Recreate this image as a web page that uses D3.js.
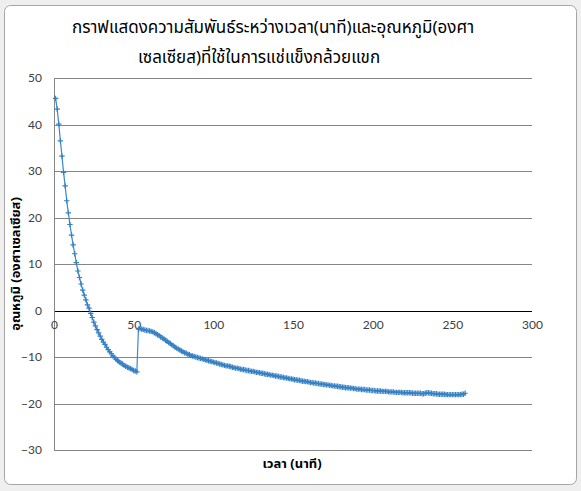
<!DOCTYPE html>
<html><head><meta charset="utf-8">
<script src="https://cdn.jsdelivr.net/npm/d3@7/dist/d3.min.js"></script>
<style>
html,body{margin:0;padding:0;background:#efefef;}
svg{display:block;}
</style></head>
<body>
<svg id="chart" width="581" height="491"></svg>
<script>
const titleLines = ["กราฟแสดงความสัมพันธ์ระหว่างเวลา(นาที)และอุณหภูมิ(องศา", "เซลเซียส)ที่ใช้ในการแช่แข็งกล้วยแขก"];
const xTitle = "เวลา (นาที)";
const yTitle = "อุณหภูมิ (องศาเซลเซียส)";
const xTicks = [0, 50, 100, 150, 200, 250, 300];
const yTicks = [-30, -20, -10, 0, 10, 20, 30, 40, 50];
// temperature readings, one per minute starting at minute 1
const coolingPhase = [
  45.6, 43.3, 40.1, 36.5, 33.2, 29.7, 26.8, 23.6, 21.0, 18.5,
  16.2, 14.1, 12.2, 10.3, 8.5, 7.1, 5.7, 4.4, 3.3, 2.3,
  1.2, 0.5, -0.6, -1.5, -2.5, -3.3, -4.1, -4.8, -5.5, -6.2,
  -6.8, -7.3, -7.9, -8.4, -8.9, -9.3, -9.8, -10.1, -10.5, -10.8,
  -11.1, -11.3, -11.5, -11.8, -12.0, -12.2, -12.3, -12.5, -12.7, -12.9,
  -13.0, -13.2
];
const freezingPhase = [
  -4.0, -3.9, -4.0, -4.1, -4.2, -4.3, -4.3, -4.4, -4.5, -4.6,
  -4.8, -5.0, -5.2, -5.4, -5.7, -5.9, -6.1, -6.4, -6.6, -6.9,
  -7.1, -7.4, -7.6, -7.9, -8.1, -8.3, -8.5, -8.7, -8.9, -9.1,
  -9.2, -9.4, -9.5, -9.7, -9.8, -9.9, -10.0, -10.1, -10.2, -10.3,
  -10.4, -10.5, -10.6, -10.7, -10.8, -10.9, -11.0, -11.1, -11.2, -11.3,
  -11.4, -11.5, -11.6, -11.7, -11.8, -11.9, -11.9, -12.0, -12.1, -12.2,
  -12.3, -12.4, -12.4, -12.5, -12.6, -12.7, -12.7, -12.8, -12.9, -12.9,
  -13.0, -13.1, -13.1, -13.2, -13.3, -13.3, -13.4, -13.5, -13.5, -13.6,
  -13.7, -13.7, -13.8, -13.9, -13.9, -14.0, -14.1, -14.1, -14.2, -14.3,
  -14.3, -14.4, -14.5, -14.5, -14.6, -14.7, -14.7, -14.8, -14.9, -14.9,
  -15.0, -15.0, -15.1, -15.2, -15.2, -15.3, -15.3, -15.4, -15.5, -15.5,
  -15.6, -15.6, -15.7, -15.7, -15.8, -15.8, -15.9, -15.9, -16.0, -16.0,
  -16.1, -16.1, -16.2, -16.2, -16.3, -16.3, -16.4, -16.4, -16.5, -16.5,
  -16.6, -16.6, -16.6, -16.7, -16.7, -16.8, -16.8, -16.9, -16.9, -16.9,
  -17.0, -17.0, -17.0, -17.1, -17.1, -17.1, -17.2, -17.2, -17.2, -17.3,
  -17.3, -17.3, -17.3, -17.4, -17.4, -17.4, -17.4, -17.5, -17.5, -17.5,
  -17.5, -17.6, -17.6, -17.6, -17.6, -17.6, -17.7, -17.7, -17.7, -17.7,
  -17.7, -17.7, -17.8, -17.8, -17.8, -17.8, -17.8, -17.8, -17.9, -17.9,
  -17.8, -17.7, -17.7, -17.8, -17.8, -17.9, -17.9, -17.9, -18.0, -18.0,
  -18.0, -18.0, -18.0, -18.1, -18.1, -18.1, -18.1, -18.1, -18.1, -18.1,
  -18.1, -18.1, -18.1, -18.0, -18.0, -17.8
];
const temperature = coolingPhase.concat(freezingPhase);
const minutes = d3.range(1, temperature.length + 1);
const data = minutes.map((m, i) => ({ t: m, v: temperature[i] }));

const svg = d3.select("#chart");
const W = 581, H = 491;
const plot = { left: 54, right: 532, top: 78, bottom: 450 };

// window frame and chart area
svg.append("rect").attr("x", 0).attr("y", 0).attr("width", W).attr("height", H).attr("fill", "#efefef");
svg.append("rect").attr("x", 4.5).attr("y", 5.5).attr("width", 572).attr("height", 479)
  .attr("rx", 6).attr("fill", "#ffffff").attr("stroke", "#a6a6a6").attr("stroke-width", 1);

const x = d3.scaleLinear().domain([0, 300]).range([plot.left, plot.right]);
const y = d3.scaleLinear().domain([-30, 50]).range([plot.bottom, plot.top]);

// gridlines
svg.append("g").selectAll("line").data(yTicks).join("line")
  .attr("x1", plot.left).attr("x2", plot.right)
  .attr("y1", d => Math.round(y(d)) + 0.5).attr("y2", d => Math.round(y(d)) + 0.5)
  .attr("stroke", d => d === 0 ? "#000000" : "#868686").attr("stroke-width", 1);

// vertical axis line
svg.append("line").attr("x1", plot.left + 0.5).attr("x2", plot.left + 0.5)
  .attr("y1", plot.top).attr("y2", plot.bottom).attr("stroke", "#868686");

// y axis labels
const yAxis = d3.axisLeft(y).tickValues(yTicks).tickSize(0).tickPadding(12);
const gy = svg.append("g").attr("transform", `translate(${plot.left},0)`).call(yAxis);
gy.select(".domain").remove();
gy.selectAll("text").attr("font-family", "Lato, 'Liberation Sans', sans-serif").attr("font-size", 12).attr("fill", "#404040");

// x axis labels at zero line
const xAxis = d3.axisBottom(x).tickValues(xTicks).tickSize(0).tickPadding(10).tickFormat(d3.format("d"));
const gx = svg.append("g").attr("transform", `translate(0,${y(0)})`).call(xAxis);
gx.select(".domain").remove();
gx.selectAll("text").attr("font-family", "Lato, 'Liberation Sans', sans-serif").attr("font-size", 12).attr("fill", "#404040");

// line
const line = d3.line().x(d => x(d.t)).y(d => y(d.v));
svg.append("path").datum(data).attr("d", line)
  .attr("fill", "none").attr("stroke", "#3a87cc").attr("stroke-width", 1.2);

// markers (plus signs)
svg.append("g").selectAll("path").data(data).join("path")
  .attr("transform", d => `translate(${x(d.t)},${y(d.v)})`)
  .attr("d", "M-2.7,0H2.7M0,-2.7V2.7")
  .attr("stroke", "#3580c4").attr("stroke-width", 1.2).attr("fill", "none");

// title
const thaiFont = "'Noto Sans Thai', 'Noto Sans', 'DejaVu Sans', sans-serif";
svg.append("text").attr("x", 273).attr("y", 33).attr("text-anchor", "middle")
  .attr("font-family", thaiFont).attr("font-size", 17).attr("fill", "#000")
  .text(titleLines[0]);
svg.append("text").attr("x", 259).attr("y", 63).attr("text-anchor", "middle")
  .attr("font-family", thaiFont).attr("font-size", 17).attr("fill", "#000")
  .text(titleLines[1]);

// axis titles
svg.append("text").attr("transform", "translate(292,468)").attr("text-anchor", "middle")
  .attr("font-family", thaiFont).attr("font-size", 13).attr("font-weight", "bold").attr("fill", "#000")
  .text(xTitle);
svg.append("text").attr("transform", "translate(20,264) rotate(-90)").attr("text-anchor", "middle")
  .attr("font-family", thaiFont).attr("font-size", 13).attr("font-weight", "bold").attr("fill", "#000")
  .text(yTitle);
</script>
</body></html>
